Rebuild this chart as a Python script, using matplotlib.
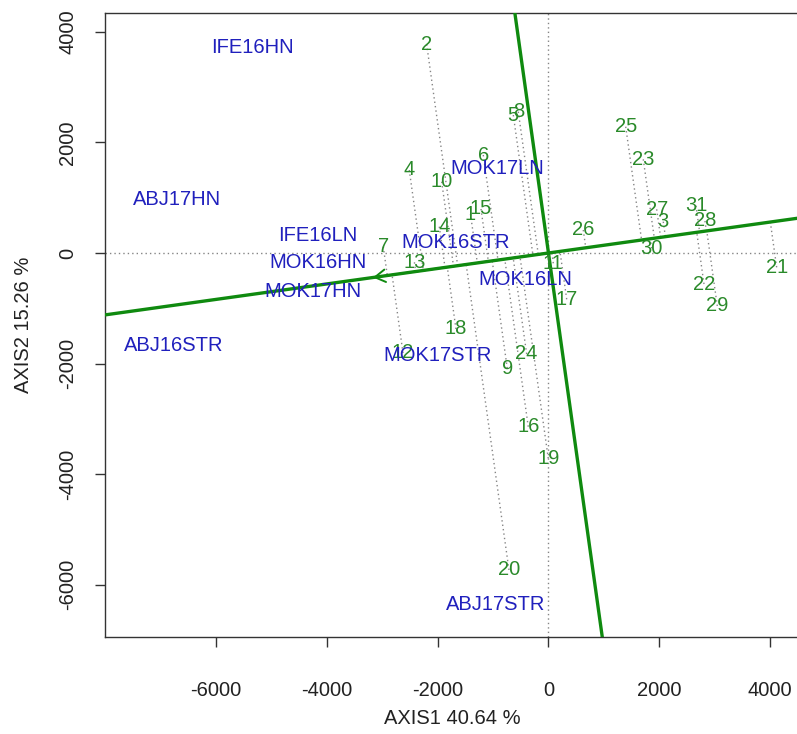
import numpy as np
import matplotlib
matplotlib.use("Agg")
import matplotlib.pyplot as plt

plt.rcParams['font.family'] = ['Liberation Sans', 'DejaVu Sans']
plt.rcParams['axes.unicode_minus'] = False

# ---- data ----
env_names = ["IFE16HN", "ABJ17HN", "IFE16LN", "MOK16HN", "MOK17HN", "ABJ16STR",
             "MOK17STR", "MOK16STR", "MOK17LN", "MOK16LN", "ABJ17STR"]
env_x = [-5352, -6706, -4161, -4161, -4245, -6760, -1994, -1670, -930, -424, -948]
env_y = [3712, 971, 325, -168, -700, -1664, -1845, 193, 1531, -488, -6365]

gen_names = [str(i) for i in range(1, 32)]
gen_x = [-1408, -2199, 2072, -2513, -635, -1177, -2982, -545, -744, -1928,
         87, -2626, -2420, -1971, -1218, -365, 329, -1670, -4, -713,
         4119, 2807, 1711, -394, 1394, 628, 1953, 2825, 3047, 1863, 2662]
gen_y = [705, 3773, 566, 1501, 2495, 1772, 114, 2555, -2085, 1289,
         -186, -1808, -168, 476, 796, -3141, -837, -1374, -3713, -5732,
         -259, -561, 1694, -1826, 2284, 416, 790, 579, -958, 85, 855]

aec = [-3168, -443]   # average environment coordinate (arrow end)

xlabel = "AXIS1 40.64 %"
ylabel = "AXIS2 15.26 %"
xticks = [-6000, -4000, -2000, 0, 2000, 4000]
yticks = [-6000, -4000, -2000, 0, 2000, 4000]

# ---- figure ----
W, H = 797, 734
fig = plt.figure(figsize=(W / 100, H / 100), dpi=100)
left_px, right_px, top_px, bot_px = 105, 799, 13, 637
ax = fig.add_axes([left_px / W, 1 - bot_px / H, (right_px - left_px) / W, (bot_px - top_px) / H])
xlim = (-8005, -8005 + (right_px - left_px) / 0.0554)
ylim = (-6944, 4340)
ax.set_xlim(*xlim)
ax.set_ylim(*ylim)

green_line = "#0f8a0f"
green_txt = "#2a8a2a"
blue_txt = "#2020bd"
dot_col = "#858585"
fs = 14.5

# reference axes (dotted)
ax.axhline(0, color=dot_col, ls=(0, (1, 2.2)), lw=1.0, zorder=1)
ax.axvline(0, color=dot_col, ls=(0, (1, 2.2)), lw=1.0, zorder=1)

# AEC abscissa and ordinate
d = np.array(aec, dtype=float)
d = d / np.linalg.norm(d)
perp = np.array([-d[1], d[0]])
L = 30000
ax.plot([-L * d[0], L * d[0]], [-L * d[1], L * d[1]], color=green_line, lw=2.4, zorder=3)
ax.plot([-L * perp[0], L * perp[0]], [-L * perp[1], L * perp[1]], color=green_line, lw=2.4, zorder=3)
ax.annotate("", xy=(aec[0], aec[1]), xytext=(0, 0),
            arrowprops=dict(arrowstyle="->,head_length=0.75,head_width=0.45",
                            color=green_line, lw=1.4, mutation_scale=10,
                            shrinkA=0, shrinkB=0), zorder=4)

# projection lines from genotypes onto AEC
gx = np.array(gen_x, float)
gy = np.array(gen_y, float)
t = gx * d[0] + gy * d[1]
fx, fy = t * d[0], t * d[1]
for x0, y0, x1, y1 in zip(gx, gy, fx, fy):
    ax.plot([x0, x1], [y0, y1], color=dot_col, ls=(0, (1, 2.2)), lw=1.0, zorder=2)

# labels
for n, x, y in zip(gen_names, gen_x, gen_y):
    ax.text(x, y, n, color=green_txt, fontsize=fs, ha="center", va="center", zorder=5)
for n, x, y in zip(env_names, env_x, env_y):
    ax.text(x, y, n, color=blue_txt, fontsize=fs, ha="center", va="center", zorder=6)

# axes styling
for s in ["left", "bottom", "top", "right"]:
    ax.spines[s].set_color("#333333")
    ax.spines[s].set_linewidth(1.0)
ax.set_xticks(xticks)
ax.set_yticks(yticks)
ax.set_xticklabels([str(v) for v in xticks])
ax.set_yticklabels([str(v) for v in yticks], rotation=90, va="center")
ax.tick_params(axis="x", length=7.5, width=1.0, color="#333333", pad=24.5, labelsize=fs, labelcolor="#222222")
ax.tick_params(axis="y", length=7.5, width=1.0, color="#333333", pad=12.5, labelsize=fs, labelcolor="#222222")
ax.set_xlabel(xlabel, fontsize=fs, color="#222222")
ax.set_ylabel(ylabel, fontsize=fs, color="#222222")
ax.xaxis.set_label_coords((452 - left_px) / (right_px - left_px), (bot_px - 719) / (bot_px - top_px))
ax.xaxis.label.set_va("center")
ax.yaxis.set_label_coords((23 - left_px) / (right_px - left_px), 0.5)
ax.yaxis.label.set_va("center")

fig.savefig("out.png", dpi=100)
